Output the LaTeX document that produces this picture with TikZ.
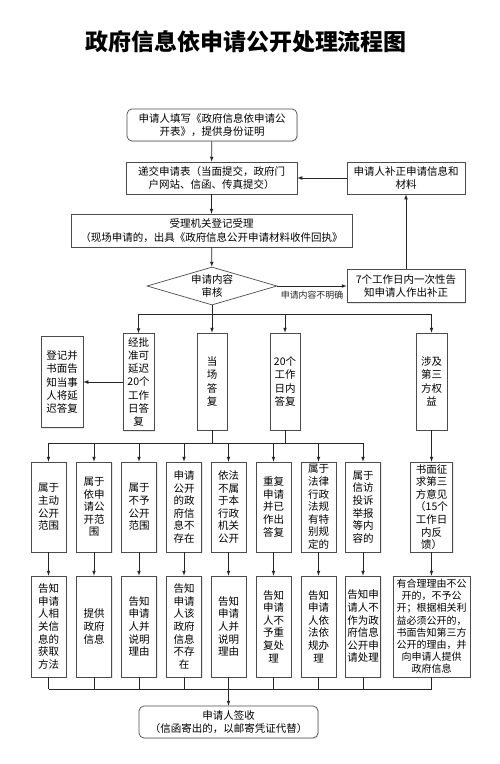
\documentclass[tikz,border=0pt]{standalone}
\usepackage{fontspec}
\setmainfont{Noto Sans CJK SC}
\usepackage{tikz}
\usetikzlibrary{shapes.geometric,shadows}

\begin{document}
\begin{tikzpicture}[x=1pt,y=-1pt]
\tikzstyle{box}=[rectangle, draw=black!70, fill=white, line width=0.7pt, inner sep=0pt, align=center, font=\fontsize{10.5}{13.3}\selectfont, drop shadow={shadow xshift=1pt, shadow yshift=-1pt, fill=black!18}]
\tikzstyle{roundbox}=[box, rounded corners=5pt]
\tikzstyle{col}=[box, font=\fontsize{10.5}{12.6}\selectfont, minimum width=35pt]
\tikzstyle{connect}=[-latex, line width=0.7pt, black!85]
\tikzstyle{wire}=[line width=0.7pt, black!85]
\fill[white] (0,0) rectangle (500,764);
\useasboundingbox (0,0) rectangle (500,764);

\node[font=\fontsize{23}{23}\selectfont\bfseries] (title) at (246,42) {政府信息依申请公开处理流程图};

% main column
\node[roundbox, minimum width=170pt, minimum height=32pt] (apply) at (212,125) {申请人填写《政府信息依申请公\\开表》，提供身份证明};
\node[box, minimum width=171pt, minimum height=32pt] (submit) at (211.5,178) {递交申请表（当面提交，政府门\\户网站、信函、传真提交）};
\node[box, minimum width=281pt, minimum height=33pt] (register) at (211.5,230.5) {受理机关登记受理\\（现场申请的，出具《政府信息公开申请材料收件回执》};
\node[diamond, aspect=3.4, draw=black!70, fill=white, line width=0.7pt, inner sep=0pt, minimum width=130pt, minimum height=38pt, align=center, font=\fontsize{10.5}{13.3}\selectfont] (review) at (212,286) {申请内容\\审核};

% correction loop
\node[box, minimum width=118pt, minimum height=32pt] (amend) at (406,178) {申请人补正申请信息和\\材料};
\node[box, minimum width=118pt, minimum height=33pt] (notify) at (406,286) {7个工作日内一次性告\\知申请人作出补正};

% second row
\node[box, minimum width=31pt, minimum height=97pt] (delay) at (138.5,382) {经批\\准可\\延迟\\20个\\工作\\日答\\复};
\node[box, minimum width=30pt, minimum height=97pt] (spot) at (212,381.5) {当\\场\\答\\复};
\node[box, minimum width=30pt, minimum height=97pt] (twenty) at (285,381.5) {20个\\工作\\日内\\答复};
\node[box, minimum width=31pt, minimum height=97pt] (third) at (431.5,381.5) {涉及\\第三\\方权\\益};
\node[box, minimum width=42pt, minimum height=91pt] (postpone) at (62,382) {登记并\\书面告\\知当事\\人将延\\迟答复};

% third row
\node[col, minimum height=90pt] (r3_1) at (48.5,507) {属于\\主动\\公开\\范围};
\node[col, minimum height=90pt] (r3_2) at (94,507) {属于\\依申\\请公\\开范\\围};
\node[col, minimum height=90pt] (r3_3) at (139,507) {属于\\不予\\公开\\范围};
\node[col, minimum height=90pt] (r3_4) at (184,507) {申请\\公开\\的政\\府信\\息不\\存在};
\node[col, minimum height=90pt] (r3_5) at (228.5,507) {依法\\不属\\于本\\行政\\机关\\公开};
\node[col, minimum height=90pt] (r3_6) at (273.5,507) {重复\\申请\\并已\\作出\\答复};
\node[col, minimum height=90pt] (r3_7) at (318.5,507) {属于\\法律\\行政\\法规\\有特\\别规\\定的};
\node[col, minimum height=90pt] (r3_8) at (363,507) {属于\\信访\\投诉\\举报\\等内\\容的};
\node[col, minimum width=42pt, minimum height=90pt] (consult) at (431.5,507) {书面征\\求第三\\方意见\\（15个\\工作日\\内反\\馈）};

% fourth row
\node[col, minimum height=101pt] (r4_1) at (48.5,626.5) {告知\\申请\\人相\\关信\\息的\\获取\\方法};
\node[col, minimum height=101pt] (r4_2) at (94,626.5) {提供\\政府\\信息};
\node[col, minimum height=101pt] (r4_3) at (139,626.5) {告知\\申请\\人并\\说明\\理由};
\node[col, minimum height=101pt] (r4_4) at (184,626.5) {告知\\申请\\人该\\政府\\信息\\不存\\在};
\node[col, minimum height=101pt] (r4_5) at (228.5,626.5) {告知\\申请\\人并\\说明\\理由};
\node[col, minimum height=101pt] (r4_6) at (273.5,626.5) {告知\\申请\\人不\\予重\\复处\\理};
\node[col, minimum height=101pt] (r4_7) at (318.5,626.5) {告知\\申请\\人依\\法依\\规办\\理};
\node[col, minimum height=101pt] (r4_8) at (363,626.5) {告知申\\请人不\\作为政\\府信息\\公开申\\请处理};
\node[col, font=\fontsize{10}{12.2}\selectfont, minimum width=77pt, minimum height=101pt] (reason) at (431.5,626.5) {有合理理由不公\\开的，不予公\\开；根据相关利\\益必须公开的，\\书面告知第三方\\公开的理由，并\\向申请人提供\\政府信息};

\node[roundbox, minimum width=179pt, minimum height=32pt] (sign) at (228.5,722) {申请人签收\\（信函寄出的，以邮寄凭证代替）};

% junctions
\coordinate (br_1) at (138.5,314);
\coordinate (br_2) at (285,314);
\coordinate (br_3) at (431.5,314);
\coordinate (bus_s) at (212,443);
\coordinate (bus_t) at (285,443);
\coordinate (b_1) at (48.5,443);
\coordinate (b_2) at (94,443);
\coordinate (b_3) at (139,443);
\coordinate (b_4) at (184,443);
\coordinate (b_5) at (228.5,443);
\coordinate (b_6) at (273.5,443);
\coordinate (b_7) at (318.5,443);
\coordinate (b_8) at (363,443);
\coordinate (j_1) at (48.5,689);
\coordinate (j_2) at (94,689);
\coordinate (j_3) at (139,689);
\coordinate (j_4) at (184,689);
\coordinate (j_6) at (273.5,689);
\coordinate (j_7) at (318.5,689);
\coordinate (j_8) at (363,689);
\coordinate (j_9) at (431.5,689);

\draw[wire] (br_1) -- (br_3);
\draw[wire] (b_1) -- (b_8);
\draw[wire] (j_1) -- (j_9);

\path
(apply) edge [connect] (submit)
(submit) edge [connect] (register)
(register) edge [connect] (review)
(review) edge [connect] node[below=1pt, font=\fontsize{8.9}{9}\selectfont] {申请内容不明确} (notify)
(notify) edge [connect] (amend)
(amend) edge [connect] (submit)

(review) edge [connect] (spot)
(br_1) edge [connect] (delay)
(br_2) edge [connect] (twenty)
(br_3) edge [connect] (third)
(delay) edge [connect] (postpone)

(spot) edge [wire] (bus_s)
(twenty) edge [wire] (bus_t)
(b_1) edge [connect] (r3_1)
(b_2) edge [connect] (r3_2)
(b_3) edge [connect] (r3_3)
(b_4) edge [connect] (r3_4)
(b_5) edge [connect] (r3_5)
(b_6) edge [connect] (r3_6)
(b_7) edge [connect] (r3_7)
(b_8) edge [connect] (r3_8)
(third) edge [connect] (consult)

(r3_1) edge [connect] (r4_1)
(r3_2) edge [connect] (r4_2)
(r3_3) edge [connect] (r4_3)
(r3_4) edge [connect] (r4_4)
(r3_5) edge [connect] (r4_5)
(r3_6) edge [connect] (r4_6)
(r3_7) edge [connect] (r4_7)
(r3_8) edge [connect] (r4_8)
(consult) edge [connect] (reason)

(r4_1) edge [wire] (j_1)
(r4_2) edge [wire] (j_2)
(r4_3) edge [wire] (j_3)
(r4_4) edge [wire] (j_4)
(r4_6) edge [wire] (j_6)
(r4_7) edge [wire] (j_7)
(r4_8) edge [wire] (j_8)
(reason) edge [wire] (j_9)
(r4_5) edge [connect] (sign);
\end{tikzpicture}
\end{document}
